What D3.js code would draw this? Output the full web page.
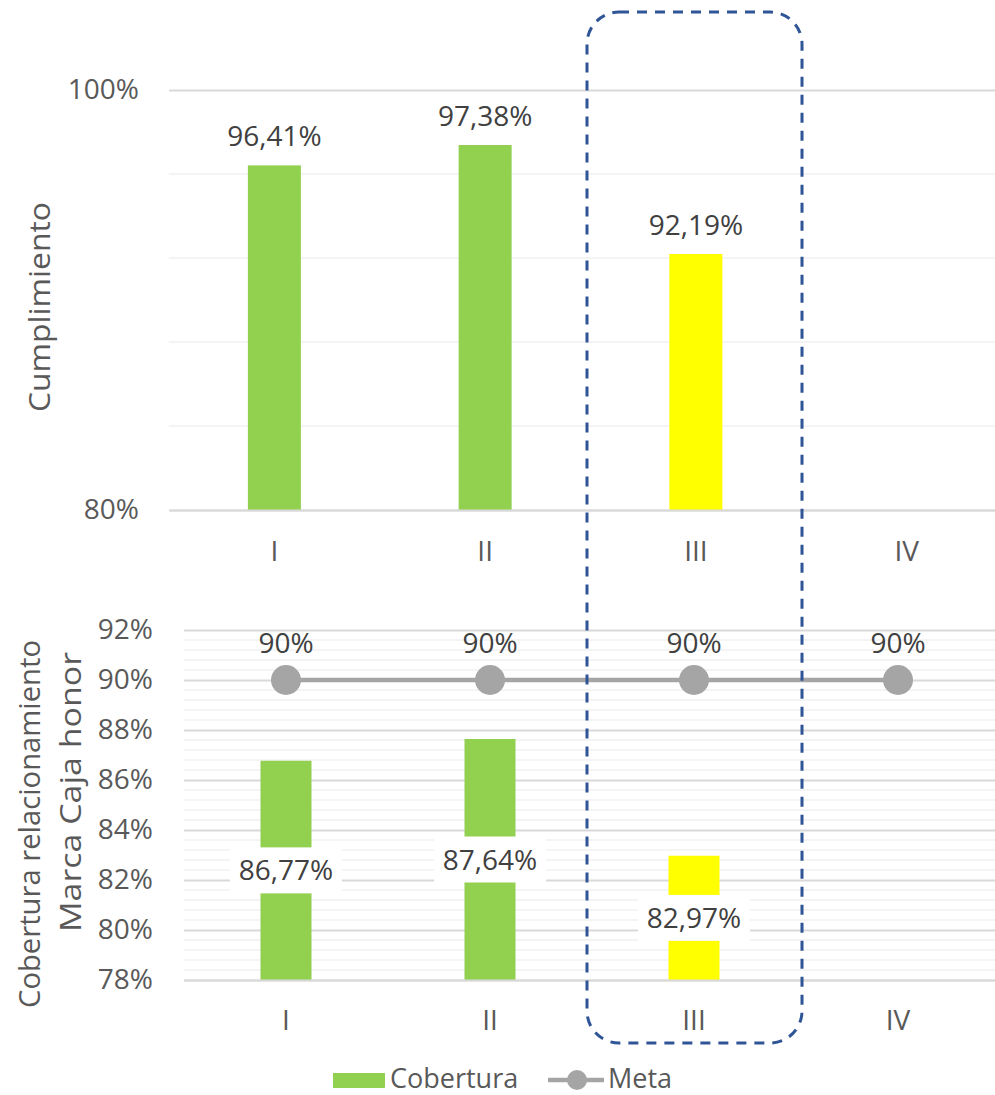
<!DOCTYPE html>
<html>
<head>
<meta charset="utf-8">
<script src="https://cdn.jsdelivr.net/npm/d3@7"></script>
<style>
  html, body { margin: 0; padding: 0; background: #ffffff; }
  svg { display: block; font-family: "Open Sans", "Liberation Sans", sans-serif; }
</style>
</head>
<body>
<svg id="chart" width="995" height="1095"></svg>
<script>
// Quarters on both panels
const quarters = ["I", "II", "III", "IV"];

// Panel 1: Cumplimiento (%)
const cumplimiento = [96.41, 97.38, 92.19, null];
const cumplimientoTicks = [80, 100];
const cumplimientoMinor = [84, 88, 92, 96];

// Panel 2: Cobertura relacionamiento Marca Caja honor (%)
const cobertura = [86.77, 87.64, 82.97, null];
const meta = [90, 90, 90, 90];
const coberturaTicks = [78, 80, 82, 84, 86, 88, 90, 92];

const legendLabels = ["Cobertura", "Meta"];

// Styling
const GREEN = "#92d050", YELLOW = "#ffff00", META_GRAY = "#a5a5a5";
const TICK_COLOR = "#595959", LABEL_COLOR = "#404040";
const MAJOR_GRID = "#d9d9d9", MINOR_GRID = "#f0f0f0";
const highlightQuarter = "III";

const locale = d3.formatLocale({ decimal: ",", thousands: ".", grouping: [3], currency: ["", ""] });
const fmt2 = v => locale.format(".2f")(v) + "%";
const fmt0 = v => locale.format(".0f")(v) + "%";

const svg = d3.select("#chart");

// ---------- Panel 1 ----------
const x1 = d3.scaleBand().domain(quarters).range([169, 1012]);
const y1 = d3.scaleLinear().domain([80, 100]).range([510, 90]);
const p1 = svg.append("g");

p1.append("g").selectAll("line").data(cumplimientoMinor).join("line")
  .attr("x1", 169).attr("x2", 1012)
  .attr("y1", d => y1(d)).attr("y2", d => y1(d))
  .attr("stroke", MINOR_GRID).attr("stroke-width", 1.5);

const yAxis1 = d3.axisLeft(y1).tickValues(cumplimientoTicks).tickFormat(fmt0)
  .tickSize(-(1012 - 169)).tickPadding(30);
p1.append("g").attr("transform", "translate(169,0)").call(yAxis1)
  .call(g => g.select(".domain").remove())
  .call(g => g.selectAll(".tick line").attr("stroke", MAJOR_GRID).attr("stroke-width", 2))
  .call(g => g.selectAll(".tick text").attr("fill", TICK_COLOR).attr("font-size", 28)
    .attr("font-family", "Open Sans"));

const cumData = quarters.map((q, i) => ({ q, v: cumplimiento[i] })).filter(d => d.v != null);
p1.selectAll("rect.bar").data(cumData).join("rect").attr("class", "bar")
  .attr("x", d => x1(d.q) + x1.bandwidth() / 2 - 26.5)
  .attr("width", 53)
  .attr("y", d => y1(d.v))
  .attr("height", d => y1(80) - y1(d.v))
  .attr("fill", d => d.q === highlightQuarter ? YELLOW : GREEN);

p1.selectAll("text.vlabel").data(cumData).join("text").attr("class", "vlabel")
  .attr("x", d => x1(d.q) + x1.bandwidth() / 2)
  .attr("y", d => y1(d.v) - 19)
  .attr("text-anchor", "middle").attr("font-size", 28).attr("fill", LABEL_COLOR)
  .text(d => fmt2(d.v));

const xAxis1 = d3.axisBottom(x1).tickSize(0).tickPadding(31);
p1.append("g").attr("transform", "translate(0,510)").call(xAxis1)
  .call(g => g.select(".domain").attr("stroke", MAJOR_GRID).attr("stroke-width", 2))
  .call(g => g.selectAll(".tick text").attr("fill", TICK_COLOR).attr("font-size", 28)
    .attr("font-family", "Open Sans"));

p1.append("text")
  .attr("transform", "translate(50,307) rotate(-90)")
  .attr("text-anchor", "middle").attr("font-size", 30).attr("fill", TICK_COLOR)
  .attr("textLength", 210).attr("lengthAdjust", "spacingAndGlyphs")
  .text("Cumplimiento");

// ---------- Panel 2 ----------
const x2 = d3.scaleBand().domain(quarters).range([184, 1000]);
const y2 = d3.scaleLinear().domain([78, 92]).range([980, 630]);
const p2 = svg.append("g");

// minor gridlines every 0.4 %
const minor2 = d3.range(0, 36).map(i => 78 + i * 0.4).filter(v => Math.abs(v / 2 - Math.round(v / 2)) > 1e-6);
p2.append("g").selectAll("line").data(minor2).join("line")
  .attr("x1", 184).attr("x2", 1000)
  .attr("y1", d => y2(d)).attr("y2", d => y2(d))
  .attr("stroke", MINOR_GRID).attr("stroke-width", 1.5);

const yAxis2 = d3.axisLeft(y2).tickValues(coberturaTicks).tickFormat(fmt0)
  .tickSize(-(1000 - 184)).tickPadding(31);
p2.append("g").attr("transform", "translate(184,0)").call(yAxis2)
  .call(g => g.select(".domain").remove())
  .call(g => g.selectAll(".tick line").attr("stroke", MAJOR_GRID).attr("stroke-width", 2))
  .call(g => g.selectAll(".tick text").attr("fill", TICK_COLOR).attr("font-size", 28)
    .attr("font-family", "Open Sans"));

const cobData = quarters.map((q, i) => ({ q, v: cobertura[i] })).filter(d => d.v != null);
p2.selectAll("rect.bar").data(cobData).join("rect").attr("class", "bar")
  .attr("x", d => x2(d.q) + x2.bandwidth() / 2 - 25.5)
  .attr("width", 51)
  .attr("y", d => y2(d.v))
  .attr("height", d => y2(78) - y2(d.v))
  .attr("fill", d => d.q === highlightQuarter ? YELLOW : GREEN);

const xAxis2 = d3.axisBottom(x2).tickSize(0).tickPadding(30);
p2.append("g").attr("transform", "translate(0,980)").call(xAxis2)
  .call(g => g.select(".domain").attr("stroke", MAJOR_GRID).attr("stroke-width", 2))
  .call(g => g.selectAll(".tick text").attr("fill", TICK_COLOR).attr("font-size", 28)
    .attr("font-family", "Open Sans"));

// Meta line
const metaData = quarters.map((q, i) => ({ q, v: meta[i] }));
const lineGen = d3.line().x(d => x2(d.q) + x2.bandwidth() / 2).y(d => y2(d.v));
p2.append("path").datum(metaData).attr("d", lineGen)
  .attr("fill", "none").attr("stroke", META_GRAY).attr("stroke-width", 4.5);
p2.selectAll("circle.meta").data(metaData).join("circle").attr("class", "meta")
  .attr("cx", d => x2(d.q) + x2.bandwidth() / 2).attr("cy", d => y2(d.v))
  .attr("r", 15).attr("fill", META_GRAY);
p2.selectAll("text.meta").data(metaData).join("text").attr("class", "meta")
  .attr("x", d => x2(d.q) + x2.bandwidth() / 2).attr("y", d => y2(d.v) - 27)
  .attr("text-anchor", "middle").attr("font-size", 28).attr("fill", LABEL_COLOR)
  .text(d => fmt0(d.v));

// Bar value labels centred on the bar with white boxes
const lbl = p2.selectAll("g.clabel").data(cobData).join("g").attr("class", "clabel")
  .attr("transform", d => `translate(${x2(d.q) + x2.bandwidth() / 2},${(y2(d.v) + y2(78)) / 2})`);
lbl.append("rect").attr("x", -56).attr("y", -23).attr("width", 112).attr("height", 46).attr("fill", "#ffffff");
lbl.append("text").attr("text-anchor", "middle").attr("dy", "0.36em")
  .attr("font-size", 28).attr("fill", LABEL_COLOR).text(d => fmt2(d.v));

p2.append("text")
  .attr("transform", "translate(30,824) rotate(-90)")
  .attr("text-anchor", "middle").attr("dy", "0.35em").attr("font-size", 29).attr("fill", TICK_COLOR)
  .attr("textLength", 368).attr("lengthAdjust", "spacingAndGlyphs")
  .text("Cobertura relacionamiento");
p2.append("text")
  .attr("transform", "translate(70,792) rotate(-90)")
  .attr("text-anchor", "middle").attr("dy", "0.35em").attr("font-size", 30).attr("fill", TICK_COLOR)
  .attr("textLength", 280).attr("lengthAdjust", "spacingAndGlyphs")
  .text("Marca Caja honor");

// ---------- Legend ----------
const lg = svg.append("g");
lg.append("rect").attr("x", 333).attr("y", 1073).attr("width", 52).attr("height", 15).attr("fill", GREEN);
lg.append("text").attr("x", 390).attr("y", 1088).attr("font-size", 27).attr("fill", TICK_COLOR).text(legendLabels[0]);
lg.append("line").attr("x1", 548).attr("x2", 604).attr("y1", 1080).attr("y2", 1080)
  .attr("stroke", META_GRAY).attr("stroke-width", 4.5);
lg.append("circle").attr("cx", 577).attr("cy", 1080).attr("r", 10).attr("fill", META_GRAY);
lg.append("text").attr("x", 608).attr("y", 1088).attr("font-size", 27).attr("fill", TICK_COLOR).text(legendLabels[1]);

// ---------- Highlight frame around quarter III ----------
svg.append("rect")
  .attr("x", 587).attr("y", 12).attr("width", 215).attr("height", 1031)
  .attr("rx", 32).attr("ry", 32)
  .attr("fill", "none").attr("stroke", "#2f5597").attr("stroke-width", 3)
  .attr("stroke-dasharray", "10,8");
</script>
</body>
</html>
